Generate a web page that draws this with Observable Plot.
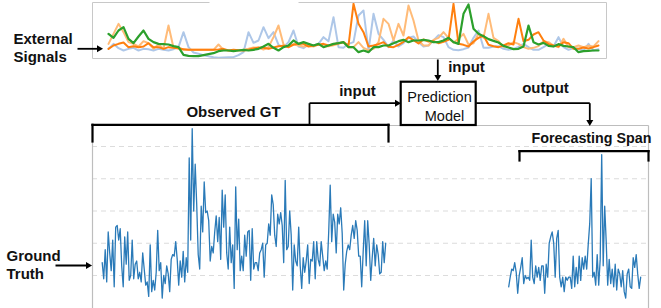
<!DOCTYPE html>
<html><head><meta charset="utf-8">
<script src="https://cdn.jsdelivr.net/npm/d3@7"></script>
<script src="https://cdn.jsdelivr.net/npm/@observablehq/plot@0.6"></script>
<style>
html,body{margin:0;padding:0;background:#fff;overflow:hidden}
#chart{position:relative;width:661px;height:308px;overflow:hidden}
#chart svg{position:absolute;left:0;top:0;background:transparent !important;overflow:visible}
</style></head><body><div id="chart"></div>
<script>
// ---- External signals (4 series, same time index) ----
const signalLightBlue = [29,44,31,24,29,32,24,29,28,24, 29,26,24,28,34,79,34,18,14,10, 7,4,2,3,4,4,10,19,79,47, 54,94,61,79,41,34,49,84,36,31, 42,39,44,64,52,124,34,32,44,49, 129,144,24,134,74,56,34,54,36,46, 62,66,49,36,39,54,70,64,34,26, 25,28,33,62,84,32,32,36,37,29, 26,29,35,44,34,26,26,34,43,36, 64,34,26,31,29,24,44,24,28];
const signalLightOrange = [44,74,104,79,49,44,36,52,46,29, 42,29,99,32,34,26,26,26,26,26, 26,26,42,26,24,24,25,26,29,33, 32,27,34,64,99,42,34,42,39,36, 38,36,43,36,37,40,44,49,34,34, 49,32,25,29,49,119,104,54,104,69, 159,114,54,39,39,56,62,79,62,48, 59,74,42,46,74,62,134,62,52,35, 39,49,44,34,29,32,37,52,49,39, 34,59,34,34,39,34,38,36,52];
const signalOrange = [29,39,44,48,34,37,34,36,46,34, 34,29,34,32,30,28,26,26,26,26, 26,26,27,29,24,26,25,24,26,30, 33,32,29,33,37,38,34,42,44,44, 36,38,41,44,39,43,46,49,39,164, 104,79,36,39,43,49,35,34,41,50, 64,55,45,57,51,52,46,50,56,164, 44,41,36,51,62,69,41,37,34,39, 46,42,119,52,56,72,79,54,43,39, 36,49,46,29,29,33,30,34,39];
const signalGreen = [74,62,84,94,59,46,66,84,59,49, 44,43,42,37,34,11,8,7,7,10, 13,16,22,24,24,22,24,26,24,26, 29,36,44,32,24,34,39,54,44,49, 44,39,44,34,39,44,46,49,34,34, 19,24,19,34,34,39,39,46,52,56, 49,54,54,56,54,49,49,54,62,49, 44,134,162,89,74,67,58,53,48,38, 33,28,29,36,99,49,42,47,38,36, 43,38,36,34,19,22,23,24,24];

// ---- Ground truth ----
const observedGT = [1.4,0.9,1.8,0.8,2.35,1.7,1.15,2.1,0.65,2.5, 2.55,2.1,2.45,1.3,0.65,2.2,1.35,2.35,0.85,1.0, 2.1,0.9,1.35,1.45,0.9,1.1,0.8,1.7,1.2,0.7, 0.8,0.35,1.95,0.5,0.85,0.55,1.1,2.4,1.15,1.4, 0.3,1.0,0.75,1.3,1.05,0.5,1.5,1.65,1.6,2.05, 1.5,0.7,1.45,0.95,1.75,0.8,1.55,1.1,4.65,2.1, 5.55,3.0,4.45,3.2,1.65,1.2,3.15,2.35,3.9,2.95, 3.0,2.7,1.45,1.9,1.7,2.35,2.85,2.05,2.8,1.5, 3.65,2.5,3.5,1.7,1.2,2.5,1.4,1.95,
 0.6,3.75,1.8,2.75,1.15,1.6,1.15,2.25,1.6,2.35, 2.4,0.85,2.45,1.2,1.4,1.4,1.15,1.7,1.8,2.0, 0.95,1.95,2.0,2.6,2.25,3.5,3.2,2.25,1.9,2.9, 2.6,2.95,2.55,1.4,3.95,1.8,1.9,3.0,2.25,0.55, 1.95,1.45,1.3,2.5,1.3,0.6,1.55,1.1,1.45,1.95, 0.75,1.5,1.45,2.05,0.9,2.05,1.5,1.3,2.05,1.6, 1.15,1.45,1.2,2.35,3.8,2.05,2.9,2.65,1.7,2.9, 2.6,3.1,2.3,0.55,1.35,1.75,1.95,1.8,2.25,2.55, 2.15,2.7,2.4,1.6,1.6,0.65,1.75,2.7,1.3,2.7, 1.95,0.85,1.55,2.15,1.3,1.95,1.65,1.05,1.1,2.05, 1.4,2.0];
const forecastStart = 271; // time index where the forecasting span begins
const forecastGT = [0.65,0.95,1.2,1.15,1.4,1.1,0.45,1.0,1.25,1.55, 0.75,1.0,0.9,0.95,0.85,2.1,0.95,0.75,1.3,0.95, 1.25,0.85,1.3,1.3,0.45,1.35,0.95,2.0,2.2,2.35, 2.0,0.95,2.15,2.4,0.95,0.65,0.95,0.5,0.95,0.85, 0.95,0.95,0.6,1.6,0.65,1.25,0.75,1.6,0.85,1.55, 1.2,1.6,1.2,1.95,2.6,4.0,0.95,1.1,0.7,1.65, 0.7,1.5,4.75,1.3,3.15,2.05,0.7,1.5,0.75,1.2, 0.65,1.35,0.55,1.2,1.05,0.65,1.15,0.5,0.3,1.05, 1.2,0.65,0.6,1.55,1.25,1.65,1.05,0.6,0.95];
const gridValues = [1,2,3,4,5];

// ---- Labels ----
const labelsBold = ["External","Signals","Ground","Truth","Observed GT","input","input","output"];
const labelForecast = "Forecasting Span";
const labelsModel = ["Prediction","Model"];

const FONT = "Liberation Sans, Arial, Helvetica, sans-serif";
const W = 661, H = 308;
const chart = document.getElementById("chart");
const series = arr => arr.map((v, i) => ({t: i, v}));

// Ground-truth panel
const gtPlot = Plot.plot({
  width: W, height: H,
  marginLeft: 92, marginRight: 13, marginTop: 125, marginBottom: 0,
  x: {domain: [-6.47, 364.2], axis: null},
  y: {domain: [-0.023, 5.651], axis: null},
  marks: [
    Plot.ruleY(gridValues, {stroke: "#dcdcdc", strokeWidth: 1.2, strokeDasharray: "5,4"}),
    Plot.line(series(observedGT), {x: "t", y: "v", stroke: "#2a7ab8", strokeWidth: 1.3}),
    Plot.line(forecastGT.map((v, i) => ({t: forecastStart + i, v})), {x: "t", y: "v", stroke: "#2a7ab8", strokeWidth: 1.3})
  ]
});

// External signals panel
const topPlot = Plot.plot({
  width: W, height: H,
  marginLeft: 92, marginRight: 55, marginTop: 2, marginBottom: 250,
  x: {domain: [-3.2, 99.6], axis: null},
  y: {domain: [0, 168], axis: null},
  marks: [
    Plot.line(series(signalLightBlue), {x: "t", y: "v", stroke: "#aec7e8", strokeWidth: 2}),
    Plot.line(series(signalLightOrange), {x: "t", y: "v", stroke: "#ffbb78", strokeWidth: 2}),
    Plot.line(series(signalOrange), {x: "t", y: "v", stroke: "#ff7f0e", strokeWidth: 2}),
    Plot.line(series(signalGreen), {x: "t", y: "v", stroke: "#2ca02c", strokeWidth: 2.2})
  ]
});

// Diagram layer (pixel frame)
const seg = (x1, y1, x2, y2) => ({x1, y1, x2, y2});
const topFrame = [seg(92,2,209,2), seg(298,2,606,2), seg(92,2,92,58), seg(606,2,606,58), seg(92,58,606,58)];
const gtFrame = [seg(92,125,648,125), seg(92,125,92,308), seg(648,125,648,308)];
const brackets = [seg(92,141,92,124.3), seg(92,124.3,388,124.3), seg(388,124.3,388,141),
                  seg(519,160,519,150.7), seg(519,150.7,648,150.7), seg(648,150.7,648,160)];
const arrows = [seg(77,48.3,98,48.3), seg(55,265,87,265), seg(309,124.3,309,102.7), seg(309,102.7,396,102.7),
                seg(437.3,59,437.3,76), seg(475.7,102.7,589.3,102.7), seg(589.3,102.7,589.3,121)];
const headsRight = [{x: 98.5, y: 48.3}, {x: 87.5, y: 265}, {x: 396.5, y: 102.7}];
const headsDown = [{x: 437.3, y: 76.5}, {x: 589.3, y: 121.5}];
const boldPos = [[13,38.5,"start"],[13,56.9,"start"],[6,255.2,"start"],[6,273.5,"start"],[233,111.9,"middle"],[357,90.2,"middle"],[466,66.9,"middle"],[545,87.9,"middle"]];
const boldText = labelsBold.map((text, i) => ({text, x: boldPos[i][0], y: boldPos[i][1], a: boldPos[i][2]}));
const modelText = labelsModel.map((text, i) => ({text, x: [439, 444][i], y: [97, 115.4][i]}));

const diag = Plot.plot({
  width: W, height: H, margin: 0,
  x: {domain: [0, W], range: [0, W], axis: null},
  y: {domain: [0, H], range: [0, H], axis: null},
  marks: [
    Plot.link(topFrame, {x1: "x1", y1: "y1", x2: "x2", y2: "y2", stroke: "#c8c8c8", strokeWidth: 1}),
    Plot.link(gtFrame, {x1: "x1", y1: "y1", x2: "x2", y2: "y2", stroke: "#bdbdbd", strokeWidth: 1.2}),
    Plot.rect([{x1: 400.7, x2: 475.7, y1: 81.7, y2: 125}], {x1: "x1", x2: "x2", y1: "y1", y2: "y2", fill: "white", stroke: "black", strokeWidth: 2.2}),
    Plot.link(brackets, {x1: "x1", y1: "y1", x2: "x2", y2: "y2", stroke: "black", strokeWidth: 2.2, strokeLinecap: "square"}),
    Plot.link(arrows, {x1: "x1", y1: "y1", x2: "x2", y2: "y2", stroke: "black", strokeWidth: 1.8}),
    Plot.dot(headsRight, {x: "x", y: "y", symbol: "triangle", r: 2.6, fill: "black", rotate: 90}),
    Plot.dot(headsDown, {x: "x", y: "y", symbol: "triangle", r: 2.6, fill: "black", rotate: 180}),
    Plot.text(boldText.filter(d => d.a === "start"), {x: "x", y: "y", text: "text", textAnchor: "start", fontFamily: FONT, fontWeight: "bold", fontSize: 15, fill: "#111"}),
    Plot.text(boldText.filter(d => d.a === "middle"), {x: "x", y: "y", text: "text", textAnchor: "middle", fontFamily: FONT, fontWeight: "bold", fontSize: 15, fill: "#111"}),
    Plot.text([{text: labelForecast, x: 531, y: 137.5}], {x: "x", y: "y", text: "text", textAnchor: "start", fontFamily: FONT, fontWeight: "bold", fontSize: 14.3, fill: "#111"}),
    Plot.text(modelText, {x: "x", y: "y", text: "text", textAnchor: "middle", fontFamily: FONT, fontSize: 14.5, fill: "#111"})
  ]
});

for (const svg of [gtPlot, topPlot, diag]) {
  svg.style.background = "transparent";
  svg.style.position = "absolute";
  svg.style.left = "0px";
  svg.style.top = "0px";
  chart.appendChild(svg);
}
</script></body></html>
